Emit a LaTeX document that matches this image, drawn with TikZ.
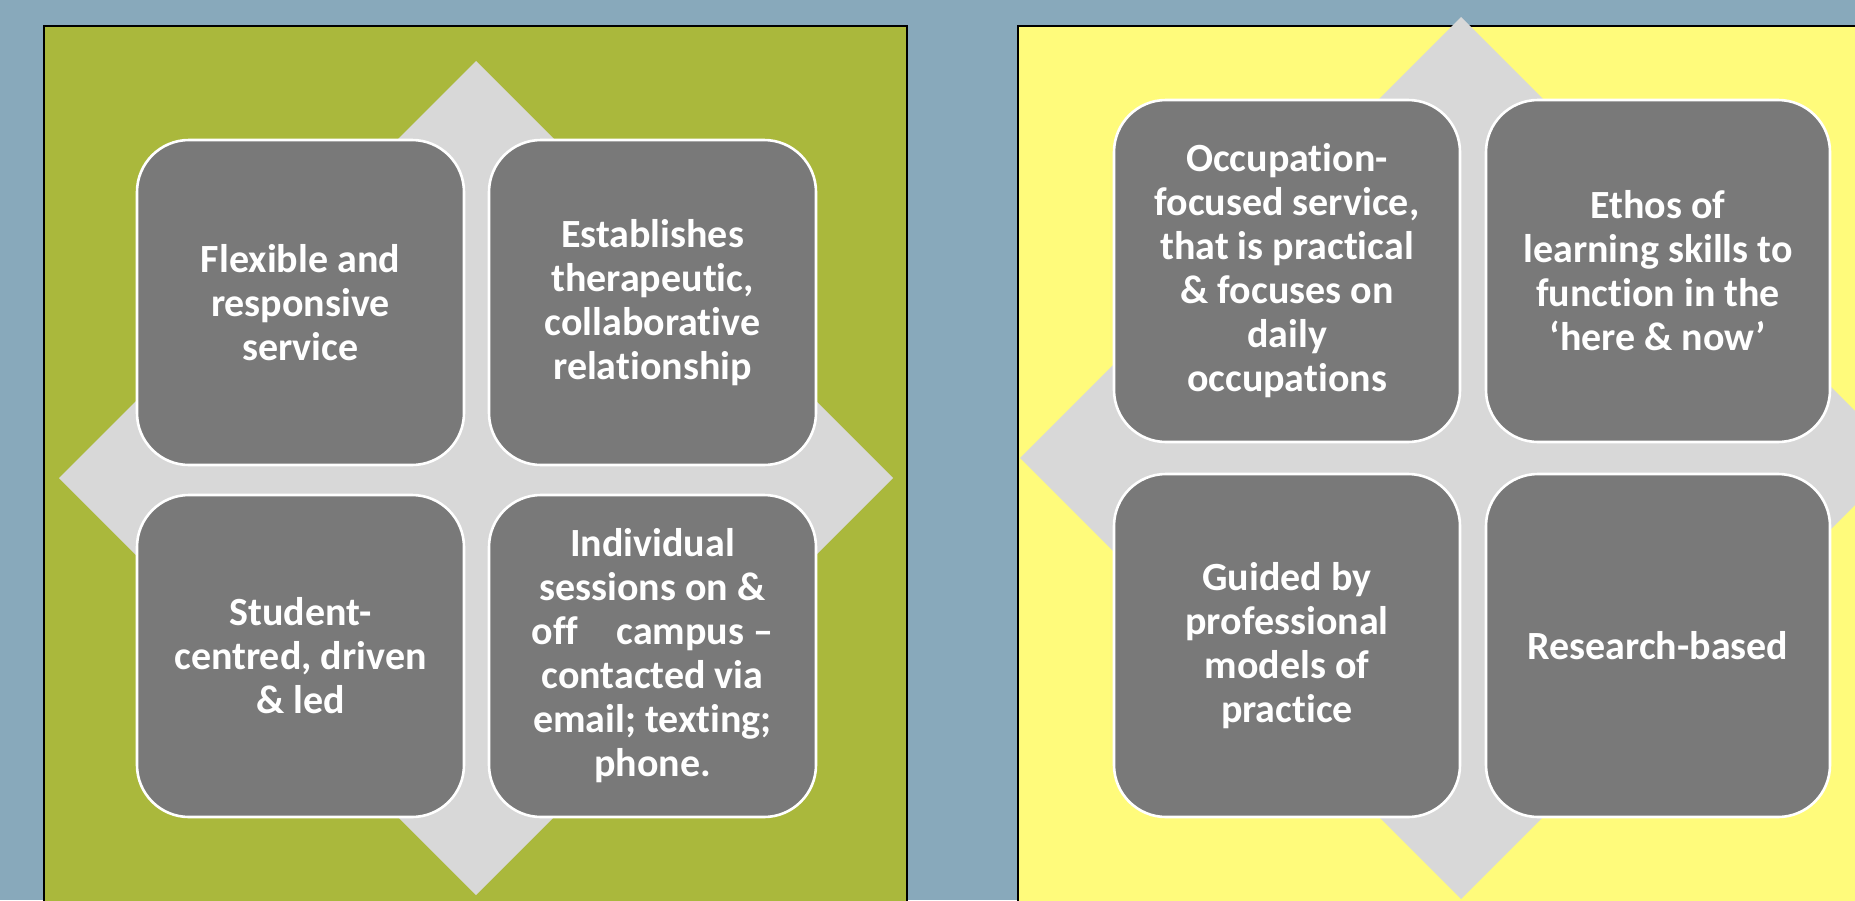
\documentclass[tikz,border=0pt]{standalone}
\usepackage{fontspec}
\setmainfont{Carlito}[Ligatures={NoCommon,NoRare,NoContextual}]
\newcommand*\nolg{\kern0pt{}}
\definecolor{bgblue}{HTML}{88A9BB}
\definecolor{panelgreen}{HTML}{AAB83C}
\definecolor{panelyellow}{HTML}{FFFB7B}
\definecolor{diamondgray}{HTML}{D8D8D8}
\definecolor{boxgray}{HTML}{797979}
\tikzset{
  panel/.style={draw=black, line width=2pt},
  diamondshape/.style={fill=diamondgray},
  infobox/.style={rectangle, rounded corners=52pt, fill=boxgray, draw=white, line width=2.6pt,
    inner sep=0pt, align=center, text=white,
    font=\fontsize{40}{44}\selectfont\bfseries},
}
\begin{document}
\begin{tikzpicture}[x=1pt,y=-1pt]
\useasboundingbox (0,0) rectangle (1855,900);
\clip (0,0) rectangle (1855,900);
\fill[bgblue] (0,0) rectangle (1855,900);
% panels
\draw[panel, fill=panelgreen] (44,26) rectangle (907,930);
\draw[panel, fill=panelyellow] (1018,26) rectangle (1900,930);
% diamonds
\fill[diamondshape] (476,61) -- (893,478) -- (476,895) -- (59,478) -- cycle;
\fill[diamondshape] (1461,17) -- (1902,458) -- (1461,899) -- (1020,458) -- cycle;
% left boxes
\node[infobox, minimum width=327pt, minimum height=325pt] (l1) at (300.5,302.5)
  {Flexible and\\responsive\\service};
\node[infobox, minimum width=327pt, minimum height=325pt] (l2) at (652.5,302.5)
  {Establishes\\therapeut\nolg ic,\\collaborative\\relat\nolg ionship};
\node[infobox, minimum width=327pt, minimum height=322pt] (l3) at (300.5,656)
  {Student-\\centred, driven\\\& led};
\node[infobox, minimum width=327pt, minimum height=322pt] (l4) at (652.5,656)
  {Individual\\sessions on \&\\of\nolg f\hspace{0.95em}campus –\\contacted via\\email; text\nolg ing;\\phone.};
% right boxes
\node[infobox, minimum width=346pt, minimum height=342pt] (r1) at (1287,271)
  {Occupat\nolg ion-\\focused service,\\that is pract\nolg ical\\\& focuses on\\daily\\occupat\nolg ions};
\node[infobox, minimum width=344pt, minimum height=342pt] (r2) at (1658,271)
  {Ethos of\\learning skills to\\funct\nolg ion in the\\‘here \& now’};
\node[infobox, minimum width=346pt, minimum height=343pt] (r3) at (1287,645.5)
  {Guided by\\professional\\models of\\practice};
\node[infobox, minimum width=344pt, minimum height=343pt] (r4) at (1658,645.5)
  {Research-based};
\end{tikzpicture}
\end{document}
